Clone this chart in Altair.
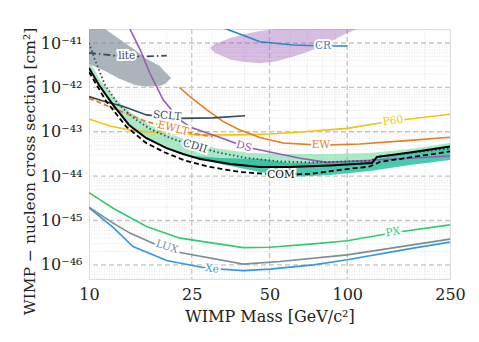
import altair as alt
import pandas as pd

# ---------------- data ----------------
XE_M = [10.0, 12.4, 14.8, 20.0, 28.6, 39.6, 50.2, 73.9, 100, 180, 250]
XE_S = [1.95e-45, 7.0e-46, 2.58e-46, 1.25e-46, 8.4e-47, 7.4e-47, 8.0e-47, 1.0e-46, 1.3e-46, 2.38e-46, 3.25e-46]

LUX_M = [10.0, 12.4, 14.4, 18.3, 22.5, 39.6, 54.9, 100, 250]
LUX_S = [2.0e-45, 8.7e-46, 5.2e-46, 2.82e-46, 1.89e-46, 1.04e-46, 1.19e-46, 1.68e-46, 3.8e-46]

PX_M = [10.0, 12.4, 16.7, 22.5, 39.6, 50.2, 73.9, 100, 150.8, 250]
PX_S = [4.25e-45, 1.89e-45, 7.3e-46, 4.0e-46, 2.45e-46, 2.5e-46, 2.97e-46, 3.5e-46, 5.3e-46, 7.96e-46]

P60_M = [10.0, 12.06, 14.4, 18.8, 26.9, 38.4, 50.2, 65.7, 100, 150, 250]
P60_S = [1.94e-43, 1.35e-43, 1.1e-43, 9.4e-44, 8.5e-44, 8.5e-44, 8.9e-44, 9.9e-44, 1.19e-43, 1.75e-43, 2.48e-43]

EW_M = [22.4, 24.6, 28.6, 33.1, 38.4, 45.9, 56.4, 78.5, 112, 175, 250]
EW_S = [1.0e-42, 6.2e-43, 3.1e-43, 1.69e-43, 1.1e-43, 7.4e-44, 5.6e-44, 5.0e-44, 5.3e-44, 6.4e-44, 7.5e-44]

EWLT_M = [10.0, 12.4, 14.4, 16.7, 21.2, 25.7, 30.2]
EWLT_S = [5.7e-43, 3.4e-43, 2.4e-43, 1.69e-43, 1.2e-43, 8.9e-44, 7.8e-44]

SCLT_M = [10.0, 11.5, 13.6, 16.7, 22.5, 30.2, 40.2]
SCLT_S = [6.2e-43, 4.8e-43, 3.7e-43, 2.4e-43, 2.0e-43, 2.05e-43, 2.3e-43]

DS_M = [14.4, 15.8, 17.2, 19.4, 22.5, 24.6, 32.2, 40.2, 50.2, 65.7, 83.5, 130, 250]
DS_S = [2.07e-41, 6.95e-42, 2.08e-42, 5.2e-43, 1.85e-43, 1.28e-43, 7.4e-44, 4.6e-44, 3.5e-44, 2.53e-44, 2.04e-44, 2.3e-44, 2.85e-44]

CR_M = [30.8, 34.2, 40.9, 45.9, 61.8, 80.6, 100]
CR_S = [2.54e-41, 2.05e-41, 1.39e-41, 1.07e-41, 9.0e-42, 8.6e-42, 8.6e-42]

LITE_M = [10.0, 12.9, 16.5, 20.0]
LITE_S = [6.0e-42, 5.1e-42, 4.97e-42, 5.2e-42]

BLK_M = [10.0, 10.93, 12.39, 14.29, 16.63, 19.87, 23.12, 26.92, 35.2, 45.9, 60.0, 85.8, 124.7, 130.4, 175.1, 250]
BLK_S = [2.73e-42, 1.13e-42, 4.02e-43, 1.42e-43, 7.25e-44, 4.32e-44, 3.16e-44, 2.44e-44, 1.88e-44, 1.61e-44, 1.61e-44, 1.74e-44, 1.98e-44, 2.71e-44, 3.42e-44, 4.67e-44]

COM_M = [10.0, 11.64, 13.91, 16.63, 19.87, 23.75, 29.4, 38.4, 54.9, 71.8, 93.8, 122.5, 134.0, 175.1, 250]
COM_S = [2.22e-42, 4.94e-43, 1.32e-43, 5.6e-44, 3.33e-44, 2.2e-44, 1.61e-44, 1.24e-44, 1.06e-44, 1.12e-44, 1.38e-44, 1.65e-44, 2.09e-44, 2.64e-44, 3.6e-44]

CDII_M = [10.0, 10.55, 11.54, 12.95, 15.07, 17.23, 20.59, 25.74, 32.2, 40.9, 54.9, 71.8, 122.5, 130.4, 175.1, 250]
CDII_S = [1.0e-41, 4.14e-42, 1.13e-42, 4.23e-43, 1.94e-43, 1.16e-43, 7.25e-44, 4.67e-44, 3.33e-44, 2.57e-44, 2.14e-44, 2.04e-44, 2.2e-44, 2.71e-44, 3.33e-44, 4.21e-44]

# regions (mass, lower edge, upper edge)
LITE_R_M = [10.0, 11.54, 12.95, 15.07, 16.5, 18.8, 19.7, 20.8]
LITE_R_LO = [3.37e-42, 2.35e-42, 1.63e-42, 1.13e-42, 1.05e-42, 1.08e-42, 1.19e-42, 1.63e-42]
LITE_R_HI = [3.0e-41, 2.07e-41, 1.3e-41, 6.96e-42, 4.6e-42, 3.03e-42, 2.22e-42, 1.63e-42]

DSR_M = [29.4, 30.8, 35.2, 40.2, 45.9, 52.5, 61.7, 71.8, 83.5, 99.8, 109]
DSR_LO = [7.7e-42, 5.96e-42, 4.25e-42, 3.73e-42, 3.49e-42, 3.83e-42, 4.91e-42, 6.6e-42, 9.85e-42, 1.66e-41, 2.07e-41]
DSR_HI = [7.7e-42, 9.5e-42, 1.3e-41, 1.6e-41, 1.86e-41, 2.07e-41, 2.29e-41, 2.54e-41, 2.97e-41, 3.3e-41, 3.6e-41]

GRN_M = [10.0, 11.03, 12.61, 14.39, 17.23, 20.59, 25.74, 32.2, 42.04, 60.0, 85.8, 122.5, 175.1, 250]
GRN_HI = [4.14e-42, 1.47e-42, 5.77e-43, 2.79e-43, 1.42e-43, 8.92e-44, 5.6e-44, 4.1e-44, 3.33e-44, 3.16e-44, 3.16e-44, 3.33e-44, 4.1e-44, 5.6e-44]
GRN_LO = [2.73e-42, 1.02e-42, 3.44e-43, 1.39e-43, 6.37e-44, 3.99e-44, 2.64e-44, 2.04e-44, 1.7e-44, 1.61e-44, 1.74e-44, 1.98e-44, 3.42e-44, 4.67e-44]

TEAL_M = [25.74, 32.2, 45.9, 60.0, 85.8, 122.5, 175.1, 250]
TEAL_HI = [2.85e-44, 2.57e-44, 2.44e-44, 1.98e-44, 2.09e-44, 2.32e-44, 3.33e-44, 4.79e-44]
TEAL_LO = [2.71e-44, 1.88e-44, 1.24e-44, 9.6e-45, 1.06e-44, 1.31e-44, 1.79e-44, 2.32e-44]

# inline labels
LAB_T = ["lite", "SCLT", "EWLT", "CDII", "DS", "EW", "COM", "CR", "P60", "PX", "LUX", "Xe"]
LAB_M = [14.0, 20.05, 21.15, 25.74, 39.8, 79.1, 55.4, 80.6, 150.4, 150.4, 20.05, 29.95]
LAB_S = [5.1e-42, 2.27e-43, 1.19e-43, 4.67e-44, 4.67e-44, 4.91e-44, 1.06e-44, 8.56e-42, 1.75e-43, 5.4e-46, 2.54e-46, 8.1e-47]
LAB_A = [0, 5, 14, 17, 16, 0, 0, 0, 352, 351, 18, 7]
LAB_C = ["#34495e", "#34495e", "#e67e22", "#34495e", "#9b59b6", "#e67e22", "#000000",
         "#2e86c1", "#f1c40f", "#2ecc71", "#7f8c8d", "#3498db"]

# axis ticks and grid
X_TICKS = [10, 25, 50, 100, 250]
X_MINOR = [20, 30, 40, 60, 70, 80, 90, 200]
Y_TICKS = [1e-46, 1e-45, 1e-44, 1e-43, 1e-42, 1e-41]
Y_TICK_LABELS = ["10⁻⁴⁶", "10⁻⁴⁵", "10⁻⁴⁴", "10⁻⁴³", "10⁻⁴²", "10⁻⁴¹"]
Y_MINOR_MULT = [2, 3, 4, 5, 6, 7, 8, 9]
Y_DECADES = [1e-47, 1e-46, 1e-45, 1e-44, 1e-43, 1e-42, 1e-41]

X_DOMAIN = [10, 250]
Y_DOMAIN = [4.8e-47, 2.07e-41]

FONT = "DejaVu Serif"

# ---------------- chart ----------------
label_expr = ""
for v, t in zip(Y_TICKS, Y_TICK_LABELS):
    label_expr += f"datum.value < {v * 3:.3g} ? '{t}' : "
label_expr += "''"

X = alt.X("m:Q",
          scale=alt.Scale(type="log", domain=X_DOMAIN, nice=False),
          axis=alt.Axis(values=X_TICKS, format="d", grid=False, ticks=False, domain=False,
                        labelFlush=False,
                        labelFont=FONT, labelFontSize=16, labelColor="#222", labelPadding=7,
                        title="WIMP Mass [GeV/c²]", titleFont=FONT, titleFontSize=16,
                        titleFontWeight="normal", titleColor="#222", titlePadding=6))
Y = alt.Y("s:Q",
          scale=alt.Scale(type="log", domain=Y_DOMAIN, nice=False),
          axis=alt.Axis(values=Y_TICKS, labelExpr=label_expr, grid=False, ticks=False, domain=False,
                        labelFlush=False,
                        labelFont=FONT, labelFontSize=16, labelColor="#222", labelPadding=7,
                        title="WIMP − nucleon cross section [cm²]", titleFont=FONT, titleFontSize=15.5,
                        titleFontWeight="normal", titleColor="#222", titlePadding=3,
                        titleY=142))

y_minor = [k * d for d in Y_DECADES for k in Y_MINOR_MULT if Y_DOMAIN[0] <= k * d <= Y_DOMAIN[1]]

layers = []
layers.append(alt.Chart(pd.DataFrame({"m": X_MINOR})).mark_rule(
    color="#dddddd", strokeWidth=0.8, strokeDash=[1, 1.5]).encode(x=X))
layers.append(alt.Chart(pd.DataFrame({"s": y_minor})).mark_rule(
    color="#dddddd", strokeWidth=0.8, strokeDash=[1, 1.5]).encode(y=Y))
layers.append(alt.Chart(pd.DataFrame({"m": X_TICKS[1:-1]})).mark_rule(
    color="#c4c4c4", strokeWidth=1.3, strokeDash=[5, 3]).encode(x=X))
layers.append(alt.Chart(pd.DataFrame({"s": Y_TICKS})).mark_rule(
    color="#c4c4c4", strokeWidth=1.3, strokeDash=[5, 3]).encode(y=Y))


def band(m, lo, hi, color, opacity):
    df = pd.DataFrame({"m": m, "s": lo, "s2": hi})
    return alt.Chart(df).mark_area(color=color, opacity=opacity, clip=True).encode(
        x=X, y=Y, y2=alt.Y2("s2"))


def line(m, s, color, width=1.6, dash=None):
    df = pd.DataFrame({"m": m, "s": s, "o": list(range(len(m)))})
    kw = dict(color=color, strokeWidth=width, clip=True)
    if dash:
        kw["strokeDash"] = dash
    return alt.Chart(df).mark_line(**kw).encode(x=X, y=Y, order="o:Q")


layers.append(band(LITE_R_M, LITE_R_LO, LITE_R_HI, "#7f8c97", 0.65))
layers.append(band(DSR_M, DSR_LO, DSR_HI, "#9b59b6", 0.4))
layers.append(band(GRN_M, GRN_LO, GRN_HI, "#58d68d", 0.5))
layers.append(band(TEAL_M, TEAL_LO, TEAL_HI, "#1abc9c", 0.8))

layers.append(line(P60_M, P60_S, "#f1c40f"))
layers.append(line(EW_M, EW_S, "#e67e22"))
layers.append(line(EWLT_M, EWLT_S, "#e67e22", 1.8, [5, 3]))
layers.append(line(SCLT_M, SCLT_S, "#34495e"))
layers.append(line(LITE_M, LITE_S, "#34495e", 1.8, [7, 3, 1.5, 3]))
layers.append(line(CR_M, CR_S, "#2e86c1"))
layers.append(line(DS_M, DS_S, "#9b59b6"))
layers.append(line(PX_M, PX_S, "#2ecc71"))
layers.append(line(LUX_M, LUX_S, "#7f8c8d"))
layers.append(line(XE_M, XE_S, "#3498db"))
layers.append(line(CDII_M, CDII_S, "#34495e", 1.8, [1.5, 2.5]))
layers.append(line(BLK_M, BLK_S, "#000000", 2.0))
layers.append(line(COM_M, COM_S, "#000000", 1.8, [5, 3]))

lab_df = pd.DataFrame({"m": LAB_M, "s": LAB_S, "t": LAB_T, "a": LAB_A, "c": LAB_C})
layers.append(alt.Chart(lab_df).mark_text(
    font=FONT, fontSize=10.5, fill="white", stroke="white", strokeWidth=4).encode(
    x=X, y=Y, text="t:N", angle=alt.Angle("a:Q", scale=None)))
layers.append(alt.Chart(lab_df).mark_text(font=FONT, fontSize=10.5).encode(
    x=X, y=Y, text="t:N", angle=alt.Angle("a:Q", scale=None),
    color=alt.Color("c:N", scale=None)))

chart = alt.layer(*layers).properties(
    width=361, height=250,
    autosize=alt.AutoSizeParams(type="none"),
    padding={"left": 81, "top": 21, "right": 21, "bottom": 55},
).configure_view(stroke="#222222", strokeWidth=1.5).configure(background="white")

chart.save("out.html", embed_options={"renderer": "svg", "actions": False})
